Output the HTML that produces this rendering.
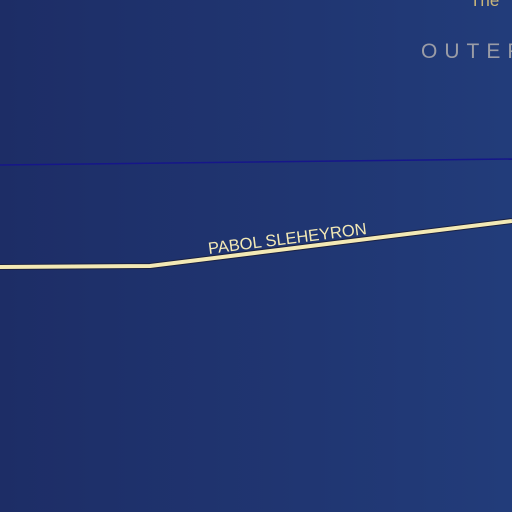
<!DOCTYPE html>
<html><head><meta charset="utf-8"><style>
html,body{margin:0;padding:0;width:512px;height:512px;overflow:hidden}
</style></head><body>
<svg width="512" height="512" viewBox="0 0 512 512" xmlns="http://www.w3.org/2000/svg">
<defs><linearGradient id="bg" x1="0" y1="0" x2="1" y2="0">
<stop offset="0" stop-color="#1d2d66"/><stop offset="1" stop-color="#223c7a"/></linearGradient></defs>
<rect width="512" height="512" fill="url(#bg)"/>
<line x1="0" y1="165" x2="512" y2="159" stroke="#16168a" stroke-width="1.5"/>
<polyline points="0,267 150,266 512,221" fill="none" stroke="#1a2040" stroke-width="6"/>
<polyline points="0,267 150,266 512,221" fill="none" stroke="#f3e9b5" stroke-width="4"/>
<text x="288" y="244" transform="rotate(-7.2 288 244)" text-anchor="middle" font-family="Liberation Sans, sans-serif" font-size="16.5" fill="#f3e9b5">PABOL SLEHEYRON</text>
<text x="470" y="6" font-family="Liberation Sans, sans-serif" font-size="17" fill="#c9b67a">The</text>
<text x="421" y="58" font-family="Liberation Sans, sans-serif" font-size="21" letter-spacing="7" fill="#9a9ca6">OUTER</text>
</svg>
</body></html>
